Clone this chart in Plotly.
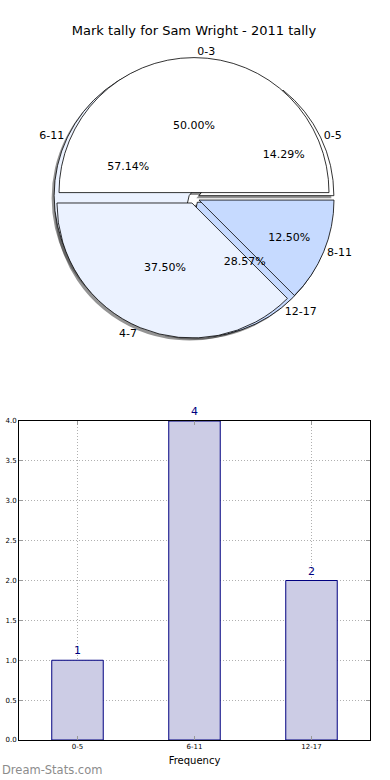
import plotly.graph_objects as go

title = "Mark tally for Sam Wright - 2011 tally"

# Pie A (drawn on top)
pie_a_labels = ["0-3", "4-7", "8-11"]
pie_a_values = [4, 3, 1]
# Pie B (drawn underneath)
pie_b_labels = ["0-5", "6-11", "12-17"]
pie_b_values = [1, 4, 2]

# Bar chart
bar_categories = ["0-5", "6-11", "12-17"]
bar_values = [1, 4, 2]
y_ticks = [0.0, 0.5, 1.0, 1.5, 2.0, 2.5, 3.0, 3.5, 4.0]

colors3 = ["#ffffff", "#ebf2ff", "#c6daff"]
PULL = 0.04
FONT = "DejaVu Sans"

W, H = 390, 780
cx, cy, r = 194, 198, 135
half = r * (1 + PULL)


def dom(dx=0.0, dy=0.0):
    return dict(
        x=[(cx - half + dx) / W, (cx + half + dx) / W],
        y=[1 - (cy + half + dy) / H, 1 - (cy - half + dy) / H],
    )


def start_rotation(values):
    # first slice starts at 3 o'clock and runs counterclockwise (matplotlib style)
    return 90 - 360.0 * values[0] / sum(values)


def pie(labels, values, colors, line_w=0.8, textinfo="none", textpos="none",
        template=None, d=None):
    return go.Pie(
        labels=labels, values=values, sort=False, direction="counterclockwise",
        rotation=start_rotation(values), pull=[PULL] * len(values),
        marker=dict(colors=colors,
                    line=dict(color="black" if line_w else "rgba(0,0,0,0)", width=line_w)),
        textinfo=textinfo, textposition=textpos, texttemplate=template,
        insidetextorientation="horizontal",
        textfont=dict(family=FONT, size=11, color="black"),
        insidetextfont=dict(family=FONT, size=11, color="black"),
        outsidetextfont=dict(family=FONT, size=11, color="black"),
        domain=d or dom(), showlegend=False, hoverinfo="skip",
    )


clear = ["rgba(0,0,0,0)"] * 3
shadow = ["rgba(60,60,60,0.55)"] * 3

fig = go.Figure()
# shadows
fig.add_trace(pie(pie_b_labels, pie_b_values, shadow, line_w=0, d=dom(-2.5, 2.5)))
fig.add_trace(pie(pie_a_labels, pie_a_values, shadow, line_w=0, d=dom(-2.5, 2.5)))
# wedges
fig.add_trace(pie(pie_b_labels, pie_b_values, colors3))
fig.add_trace(pie(pie_a_labels, pie_a_values, colors3))
# text layers
for lab, val in ((pie_b_labels, pie_b_values), (pie_a_labels, pie_a_values)):
    fig.add_trace(pie(lab, val, clear, line_w=0, textinfo="percent", textpos="inside",
                      template="%{percent:.2%}"))
    fig.add_trace(pie(lab, val, clear, line_w=0, textinfo="label", textpos="outside",
                      template="%{label}"))

fig.add_trace(go.Bar(
    x=bar_categories, y=bar_values, width=0.44,
    marker=dict(color="#ccccE5", line=dict(color="#000080", width=1)),
    text=[str(v) for v in bar_values], texttemplate="%{text}", textposition="outside",
    textfont=dict(family=FONT, size=11, color="#000080"),
    cliponaxis=False, showlegend=False, hoverinfo="skip",
    xaxis="x", yaxis="y",
))

axis_common = dict(
    showline=True, linecolor="black", linewidth=1, mirror="ticks",
    ticks="inside", ticklen=4, tickcolor="#999999",
    showgrid=True, gridcolor="#b0b0b0", griddash="1px,2px", gridwidth=1,
    tickfont=dict(family=FONT, size=7, color="black"), zeroline=False,
    layer="above traces", automargin=False,
)

fig.update_layout(
    width=W, height=H, margin=dict(l=0, r=0, t=0, b=0, autoexpand=False),
    paper_bgcolor="white", plot_bgcolor="white",
    font=dict(family=FONT, color="black"),
    title=dict(text=title, x=194 / W, xanchor="center", y=1 - 30 / H, yanchor="middle",
               font=dict(family=FONT, size=13, color="black")),
    xaxis=dict(domain=[19 / W, 370 / W], range=[-0.5, 2.5], anchor="y",
               title=dict(text="Frequency", font=dict(family=FONT, size=10), standoff=6),
               **axis_common),
    yaxis=dict(domain=[1 - 740 / H, 1 - 421 / H], range=[0, 4], anchor="x",
               tickvals=y_ticks, ticktext=[f"{v:.1f}" for v in y_ticks],
               **axis_common),
    annotations=[dict(text="Dream-Stats.com", x=0, y=1 - 770 / H, xref="paper", yref="paper",
                      xanchor="left", yanchor="middle", showarrow=False,
                      font=dict(family=FONT, size=11.5, color="#8c8c8c"))],
)

fig.write_html("out.html", config={"displayModeBar": False, "staticPlot": True},
               post_script="document.body.style.margin='0';document.body.style.overflow='hidden';")
